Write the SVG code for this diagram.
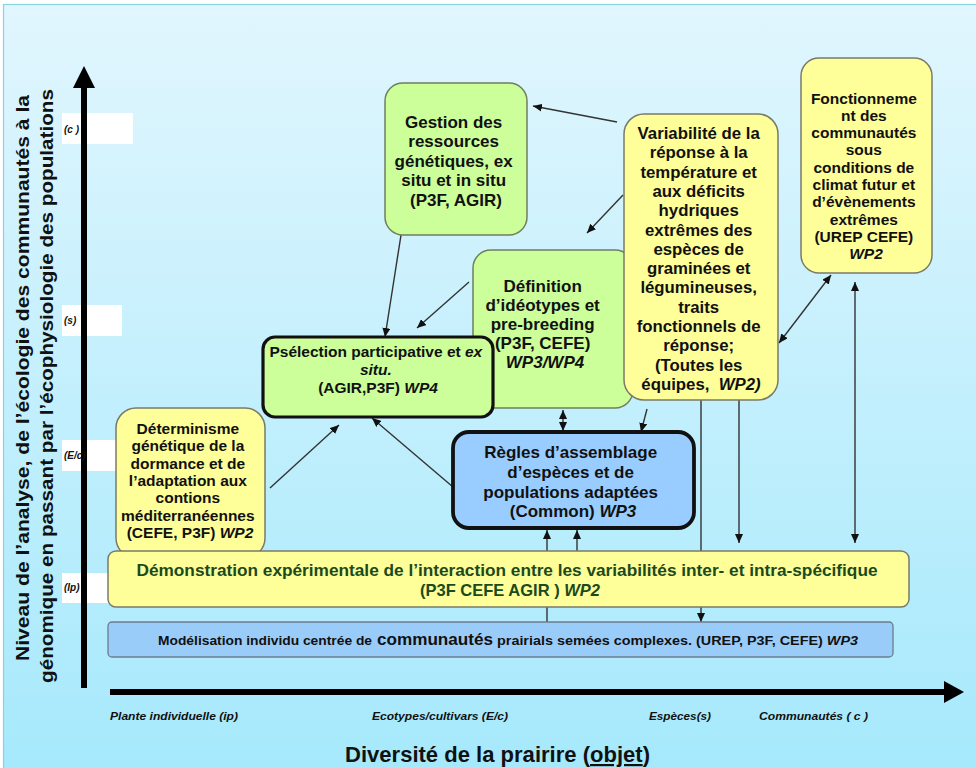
<svg xmlns="http://www.w3.org/2000/svg" width="976" height="768" viewBox="0 0 976 768">
<defs>
<linearGradient id="bg" x1="0" y1="0" x2="0" y2="1">
<stop offset="0" stop-color="#e1f6fe"/>
<stop offset="1" stop-color="#a6e9fc"/>
</linearGradient>
<marker id="ah" markerUnits="userSpaceOnUse" markerWidth="9" markerHeight="8" refX="9" refY="4" orient="auto-start-reverse" viewBox="0 0 9 8">
<path d="M0,0 L9,4 L0,8 z" fill="#111"/>
</marker>
</defs>
<style>
text{font-family:"Liberation Sans",Arial,sans-serif;font-weight:bold;fill:#111}
.c{text-anchor:middle}
.i{font-style:italic}
.y{fill:#ffff99;stroke:#7a7a6a;stroke-width:1.5}
.g{fill:#ccff99;stroke:#6f7f60;stroke-width:1.5}
.ln{stroke:#333;stroke-width:1.4;fill:none}
.lab{fill:#fff}
.ax{font-size:10px;font-style:italic}
</style>
<rect x="0" y="0" width="976" height="768" fill="#fff"/>
<rect x="3.5" y="4.5" width="975" height="766" fill="url(#bg)" stroke="#86d3e2" stroke-width="1.2"/>

<!-- axis labels -->
<g id="yaxis-title">
<text class="c" font-size="18" transform="translate(29,378) rotate(-90)" textLength="566" lengthAdjust="spacingAndGlyphs">Niveau de l’analyse,  de l’écologie des communautés à la</text>
<text class="c" font-size="18" transform="translate(53,386) rotate(-90)" textLength="594" lengthAdjust="spacingAndGlyphs">génomique en passant par l’écophysiologie des populations</text>
</g>
<g id="ylabel-boxes">
<rect class="lab" x="62" y="113" width="71" height="31"/>
<rect class="lab" x="62" y="305" width="60" height="31"/>
<rect class="lab" x="62" y="440" width="66" height="31"/>
<rect class="lab" x="62" y="573" width="46" height="30"/>
</g>
<g id="axes">
<line x1="84" y1="688" x2="84" y2="84" stroke="#000" stroke-width="6"/>
<path d="M84,66 L95,88 L73,88 z" fill="#000"/>
<line x1="110" y1="692" x2="946" y2="692" stroke="#000" stroke-width="6"/>
<path d="M964,692 L944,681 L944,703 z" fill="#000"/>
</g>
<g id="ylabels">
<text class="ax" font-size="9" x="64" y="133">(c )</text>
<text class="ax" font-size="9" x="64" y="324">(s)</text>
<text class="ax" font-size="9" x="64" y="459">(E/c)</text>
<text class="ax" font-size="9" x="64" y="591">(Ip)</text>
</g>
<g id="xlabels">
<text class="ax" x="110" y="720" textLength="128" lengthAdjust="spacingAndGlyphs">Plante individuelle (ip)</text>
<text class="ax" x="372" y="720" textLength="136" lengthAdjust="spacingAndGlyphs">Ecotypes/cultivars (E/c)</text>
<text class="ax" x="649" y="720" textLength="62" lengthAdjust="spacingAndGlyphs">Espèces(s)</text>
<text class="ax" x="759" y="720" textLength="109" lengthAdjust="spacingAndGlyphs">Communautés ( c )</text>
</g>
<g id="xaxis-title">
<text x="345" y="762" font-size="22" textLength="305" lengthAdjust="spacingAndGlyphs">Diversité de la prairire (<tspan text-decoration="underline">objet</tspan>)</text>
</g>

<!-- connectors -->
<g id="connectors">
<line class="ln" x1="617" y1="122" x2="533" y2="106" marker-end="url(#ah)"/>
<line class="ln" x1="623" y1="195" x2="587" y2="233" marker-end="url(#ah)"/>
<line class="ln" x1="401" y1="235" x2="385" y2="337" marker-end="url(#ah)"/>
<line class="ln" x1="469" y1="282" x2="417" y2="328" marker-end="url(#ah)"/>
<line class="ln" x1="270" y1="488" x2="339" y2="425" marker-end="url(#ah)"/>
<line class="ln" x1="453" y1="487" x2="372" y2="418" marker-end="url(#ah)"/>
<line class="ln" x1="563" y1="410" x2="563" y2="431" marker-start="url(#ah)" marker-end="url(#ah)"/>
<line class="ln" x1="647" y1="409" x2="641" y2="432" marker-end="url(#ah)"/>
<line class="ln" x1="547" y1="623" x2="547" y2="530" marker-end="url(#ah)"/>
<line class="ln" x1="577" y1="552" x2="577" y2="530" marker-end="url(#ah)"/>
<line class="ln" x1="701" y1="400" x2="701" y2="622" marker-end="url(#ah)"/>
<line class="ln" x1="739" y1="400" x2="739" y2="543" marker-end="url(#ah)"/>
<line class="ln" x1="855" y1="282" x2="855" y2="543" marker-start="url(#ah)" marker-end="url(#ah)"/>
<line class="ln" x1="779" y1="343" x2="831" y2="275" marker-start="url(#ah)" marker-end="url(#ah)"/>
</g>

<!-- nodes -->
<g id="gestion">
<rect class="g" x="385" y="83" width="142" height="152" rx="18"/>
<text class="c" font-size="17">
<tspan x="456" y="127.5">Gestion des</tspan>
<tspan x="456" y="147">ressources</tspan>
<tspan x="456" y="166.5">génétiques, ex</tspan>
<tspan x="456" y="186">situ et in situ</tspan>
<tspan x="456" y="205.5">(P3F, AGIR)</tspan>
</text>
</g>
<g id="definition">
<rect class="g" x="473" y="250" width="160" height="158" rx="18"/>
<text class="c" font-size="17">
<tspan x="545" y="292">Définition</tspan>
<tspan x="545" y="311">d’idéotypes et</tspan>
<tspan x="545" y="330">pre-breeding</tspan>
<tspan x="545" y="349">(P3F, CEFE)</tspan>
<tspan x="545" y="368" font-style="italic">WP3/WP4</tspan>
</text>
</g>
<g id="variabilite">
<rect class="y" x="624" y="114" width="154" height="286" rx="20"/>
<text class="c" font-size="16.8">
<tspan x="701" y="139">Variabilité de la</tspan>
<tspan x="701" y="158.3">réponse à la</tspan>
<tspan x="701" y="177.6">température et</tspan>
<tspan x="701" y="196.9">aux déficits</tspan>
<tspan x="701" y="216.2">hydriques</tspan>
<tspan x="701" y="235.5">extrêmes des</tspan>
<tspan x="701" y="254.8">espèces de</tspan>
<tspan x="701" y="274.1">graminées et</tspan>
<tspan x="701" y="293.4">légumineuses,</tspan>
<tspan x="701" y="312.7">traits</tspan>
<tspan x="701" y="332">fonctionnels de</tspan>
<tspan x="701" y="351.3">réponse;</tspan>
<tspan x="701" y="370.6">(Toutes les</tspan>
<tspan x="701" y="389.9">équipes,&#160; <tspan font-style="italic">WP2)</tspan></tspan>
</text>
</g>
<g id="fonctionnement">
<rect class="y" x="801" y="58" width="131" height="215" rx="18"/>
<text class="c" font-size="15.5">
<tspan x="866" y="103.5">Fonctionneme</tspan>
<tspan x="866" y="120.8">nt des</tspan>
<tspan x="866" y="138.1">communautés</tspan>
<tspan x="866" y="155.4">sous</tspan>
<tspan x="866" y="172.7">conditions de</tspan>
<tspan x="866" y="190">climat futur et</tspan>
<tspan x="866" y="207.3">d’évènements</tspan>
<tspan x="866" y="224.6">extrêmes</tspan>
<tspan x="866" y="241.9">(UREP CEFE)</tspan>
<tspan x="866" y="259.2" font-style="italic">WP2</tspan>
</text>
</g>
<g id="pselection">
<rect x="263" y="337" width="230" height="80" rx="12" fill="#ccff99" stroke="#111" stroke-width="3.2"/>
<text class="c" font-size="15.5">
<tspan x="378" y="357">Psélection participative et <tspan font-style="italic">ex</tspan></tspan>
<tspan x="378" y="375" font-style="italic">situ.</tspan>
<tspan x="378" y="393">(AGIR,P3F) <tspan font-style="italic">WP4</tspan></tspan>
</text>
</g>
<g id="regles">
<rect x="453" y="432" width="241" height="96" rx="16" fill="#99ccff" stroke="#111" stroke-width="3.8"/>
<text class="c" font-size="17">
<tspan x="573" y="458">Règles d’assemblage</tspan>
<tspan x="573" y="478">d’espèces et de</tspan>
<tspan x="573" y="498">populations adaptées</tspan>
<tspan x="573" y="517">(Common) <tspan font-style="italic">WP3</tspan></tspan>
</text>
</g>
<g id="determinisme">
<rect class="y" x="116" y="408" width="149" height="150" rx="20"/>
<text class="c" font-size="15.5">
<tspan x="190" y="434">Déterminisme</tspan>
<tspan x="190" y="451.3">génétique de la</tspan>
<tspan x="190" y="468.6">dormance et de</tspan>
<tspan x="190" y="485.9">l’adaptation aux</tspan>
<tspan x="190" y="503.2">contions</tspan>
<tspan x="190" y="520.5">méditerranéennes</tspan>
<tspan x="190" y="537.8">(CEFE, P3F) <tspan font-style="italic">WP2</tspan></tspan>
</text>
</g>
<g id="demonstration">
<rect class="y" x="108" y="551" width="801" height="56" rx="8"/>
<text class="c" font-size="16" x="507" y="576" style="fill:#1b4a1b" textLength="741" lengthAdjust="spacingAndGlyphs">Démonstration expérimentale de l’interaction entre les variabilités inter- et intra-spécifique</text>
<text class="c" font-size="16.5" x="510" y="596" style="fill:#1b4a1b">(P3F CEFE AGIR ) <tspan font-style="italic">WP2</tspan></text>
</g>
<g id="modelisation">
<rect x="108" y="622" width="785" height="35" rx="4" fill="#9accfa" stroke="#6c7c8c" stroke-width="1.3"/>
<text x="158" y="645" font-size="12" textLength="214" lengthAdjust="spacingAndGlyphs">Modélisation individu centrée de</text>
<text x="377" y="645" font-size="17" textLength="116" lengthAdjust="spacingAndGlyphs">communautés</text>
<text x="497" y="645" font-size="12" textLength="361" lengthAdjust="spacingAndGlyphs">prairials semées complexes. (UREP, P3F, CEFE) <tspan font-style="italic">WP3</tspan></text>
</g>
</svg>
